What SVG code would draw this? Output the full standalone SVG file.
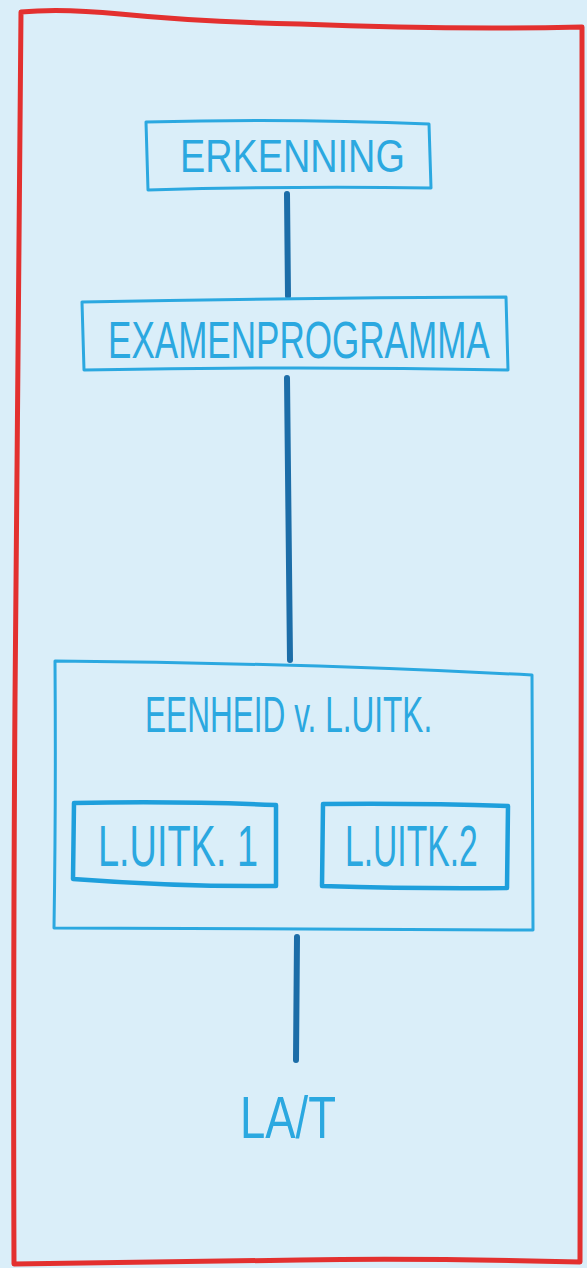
<svg xmlns="http://www.w3.org/2000/svg" width="587" height="1268" viewBox="0 0 587 1268">
<style>
.frame{fill:none;stroke:#E3302F;stroke-width:5;stroke-linejoin:round;stroke-linecap:round}
.box{fill:none;stroke:#2BA8E0;stroke-width:3;stroke-linejoin:round;stroke-linecap:round}
.boxb{fill:none;stroke:#1E9FDC;stroke-width:4.5;stroke-linejoin:round;stroke-linecap:round}
.conn{fill:none;stroke:#1C6DA8;stroke-width:6;stroke-linecap:round}
.lbl{font-family:"Liberation Sans",Arial,sans-serif;fill:#2BA8E0;text-anchor:start}
</style>
<rect width="587" height="1268" fill="#DAEEF9"/>
<path class="frame" d="M21,12 Q60,8 120,14 Q200,22 300,24 Q450,30 582,27 L582,300 Q581,800 580,1262 Q420,1258 300,1260 Q150,1262 14,1264 Q13,1000 15,700 Q18,300 21,12 Z"/>
<g id="connectors">
<path class="conn" d="M287,194 L288,296"/>
<path class="conn" d="M287,378 Q288,520 290,660"/>
<path class="conn" d="M297,937 L296,1060"/>
</g>
<g id="erkenning">
<path class="box" d="M146,122 Q290,118 429,124 L431,188 Q290,186 148,190 Z"/>
<text class="lbl" transform="translate(180,172) scale(0.8,1)" x="0" y="0" font-size="46" textLength="281" lengthAdjust="spacingAndGlyphs">ERKENNING</text>
</g>
<g id="examenprogramma">
<path class="box" d="M82,302 Q290,298 506,297 L508,370 Q300,366 84,370 Z"/>
<text class="lbl" transform="translate(108,358) scale(0.75,1)" x="0" y="0" font-size="52" textLength="509" lengthAdjust="spacingAndGlyphs">EXAMENPROGRAMMA</text>
</g>
<g id="eenheid">
<path class="box" d="M55,661 Q300,663 532,675 L533,930 Q300,930 54,928 Q56,800 55,661 Z"/>
<text class="lbl" transform="translate(145,732) scale(0.8,1)" x="0" y="0" font-size="50" textLength="359" lengthAdjust="spacingAndGlyphs">EENHEID v. L.UITK.</text>
</g>
<g id="luitk1">
<path class="boxb" d="M74,803 Q180,801 276,805 L276,886 Q180,887 73,879 Z"/>
<text class="lbl" transform="translate(98,866) scale(0.8,1)" x="0" y="0" font-size="58" textLength="200" lengthAdjust="spacingAndGlyphs">L.UITK. 1</text>
</g>
<g id="luitk2">
<path class="boxb" d="M323,804 Q420,803 508,806 L507,888 Q420,889 322,886 Z"/>
<text class="lbl" transform="translate(345,866) scale(0.8,1)" x="0" y="0" font-size="58" textLength="166" lengthAdjust="spacingAndGlyphs">L.UITK.2</text>
</g>
<g id="lat">
<text class="lbl" transform="translate(240,1138) scale(0.8,1)" x="0" y="0" font-size="60" textLength="120" lengthAdjust="spacingAndGlyphs">LA/T</text>
</g>
</svg>
